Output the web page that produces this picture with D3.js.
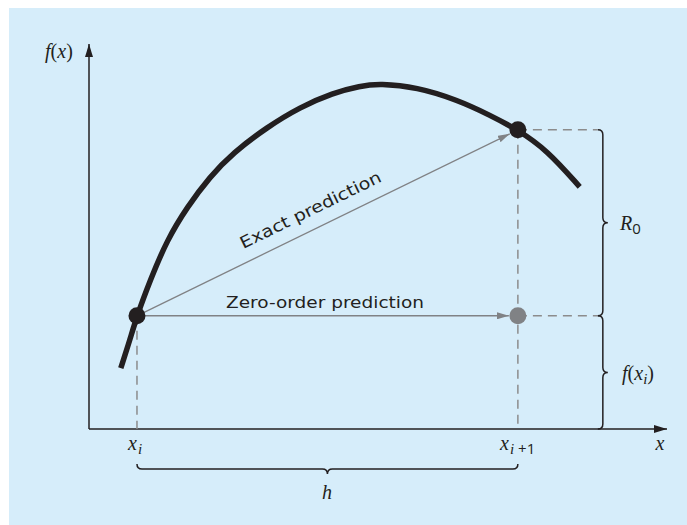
<!DOCTYPE html>
<html><head><meta charset="utf-8">
<script src="https://cdn.jsdelivr.net/npm/d3@7"></script>
<style>
html,body{margin:0;padding:0;background:#fff;}
svg{display:block;}
</style></head>
<body>
<script>
// ---- data (abstract units: x 0..100 along axis, y 0..100 along axis) ----
const curveX = [5.5, 7.1, 8.3, 10.6, 13.5, 17.0, 20.9, 24.9, 30.8, 36.5, 42.2, 46.9, 50.3, 56.7, 63.7, 69.4, 74.2, 79.2, 84.9];
const curveY = [15.8, 23.3, 29.4, 38.7, 49.1, 57.7, 65.5, 71.7, 78.4, 83.6, 87.3, 89.1, 89.7, 88.8, 85.5, 81.5, 77.7, 72.5, 62.9];
const xi = 8.3, xi1 = 74.2;
const fxi = 29.4, fxi1 = 77.7;
const braceX = 88.9;
const labelExact = "Exact prediction";
const labelZero = "Zero-order prediction";

const W = 687, H = 525;
const svg = d3.select("body").append("svg").attr("width", W).attr("height", H);
svg.append("rect").attr("x", 9).attr("y", 8).attr("width", W - 9).attr("height", H - 8).attr("fill", "#d6edfa");

const x = d3.scaleLinear().domain([0, 100]).range([89, 667]);
const y = d3.scaleLinear().domain([0, 100]).range([429, 44]);

const defs = svg.append("defs");
function marker(id, color, w, h) {
  defs.append("marker").attr("id", id).attr("viewBox", `0 0 ${w} ${h}`)
    .attr("refX", w).attr("refY", h / 2).attr("markerWidth", w).attr("markerHeight", h)
    .attr("markerUnits", "userSpaceOnUse").attr("orient", "auto")
    .append("path").attr("d", `M0,0 L${w},${h/2} L0,${h} Z`).attr("fill", color);
}
marker("axArrow", "#231f20", 13, 8);
marker("grArrow", "#808285", 12, 7);

const axisColor = "#231f20";
// axes
svg.append("line").attr("x1", x(0)).attr("y1", y(0)).attr("x2", x(100)).attr("y2", y(0))
  .attr("stroke", axisColor).attr("stroke-width", 1.5).attr("marker-end", "url(#axArrow)");
svg.append("line").attr("x1", x(0)).attr("y1", y(0)).attr("x2", x(0)).attr("y2", y(100))
  .attr("stroke", axisColor).attr("stroke-width", 1.5).attr("marker-end", "url(#axArrow)");

// dashed guides
const dashColor = "#8c8c8c";
const dash = "9,6";
[[xi, fxi, xi, 0], [xi1, fxi1, xi1, 0], [xi1, fxi1, braceX - 0.9, fxi1], [xi1, fxi, braceX - 0.9, fxi]].forEach(d => {
  svg.append("line").attr("x1", x(d[0])).attr("y1", y(d[1])).attr("x2", x(d[2])).attr("y2", y(d[3]))
    .attr("stroke", dashColor).attr("stroke-width", 1.5).attr("stroke-dasharray", dash);
});

// prediction arrows
const pr = 8.5;
const sans = "DejaVu Sans, sans-serif";
(function () {
  const x0 = x(xi), y0 = y(fxi), x1 = x(xi1), y1 = y(fxi1);
  const len = Math.hypot(x1 - x0, y1 - y0);
  const ex = x1 - (x1 - x0) / len * (pr + 0.5), ey = y1 - (y1 - y0) / len * (pr + 0.5);
  svg.append("line").attr("x1", x0).attr("y1", y0).attr("x2", ex).attr("y2", ey)
    .attr("stroke", "#808285").attr("stroke-width", 1.3).attr("marker-end", "url(#grArrow)");
  svg.append("line").attr("x1", x0).attr("y1", y0).attr("x2", x(xi1) - pr - 0.5).attr("y2", y0)
    .attr("stroke", "#808285").attr("stroke-width", 1.5).attr("marker-end", "url(#grArrow)");
  const ang = Math.atan2(y1 - y0, x1 - x0) * 180 / Math.PI;
  const mx = 313, my = 215;
  svg.append("text").attr("transform", `translate(${mx},${my}) rotate(${ang})`)
    .attr("text-anchor", "middle").attr("font-family", sans).attr("font-size", 16.5)
    .attr("textLength", 155).attr("lengthAdjust", "spacingAndGlyphs")
    .attr("fill", "#231f20").text(labelExact);
  svg.append("text").attr("x", 325).attr("y", y0 - 8)
    .attr("text-anchor", "middle").attr("font-family", sans).attr("font-size", 16.5)
    .attr("textLength", 198).attr("lengthAdjust", "spacingAndGlyphs")
    .attr("fill", "#231f20").text(labelZero);
})();

// curve
const pts = curveX.map((v, i) => [x(v), y(curveY[i])]);
svg.append("path").attr("d", d3.line().curve(d3.curveBasis)(pts))
  .attr("fill", "none").attr("stroke", "#231f20").attr("stroke-width", 5.5);

// points
svg.append("circle").attr("cx", x(xi)).attr("cy", y(fxi)).attr("r", pr).attr("fill", "#231f20");
svg.append("circle").attr("cx", x(xi1)).attr("cy", y(fxi1)).attr("r", pr).attr("fill", "#231f20");
svg.append("circle").attr("cx", x(xi1)).attr("cy", y(fxi)).attr("r", pr).attr("fill", "#808285");

// braces
function vbrace(bx, ya, yb) { // ya top, yb bottom, tip points right
  const q = 5, ym = (ya + yb) / 2;
  return `M${bx - q},${ya} Q${bx},${ya} ${bx},${ya + q} L${bx},${ym - q} Q${bx},${ym} ${bx + q},${ym} Q${bx},${ym} ${bx},${ym + q} L${bx},${yb - q} Q${bx},${yb} ${bx - q},${yb}`;
}
function hbrace(by, xa, xb) { // tip points down
  const q = 5, xm = (xa + xb) / 2;
  return `M${xa},${by - q} Q${xa},${by} ${xa + q},${by} L${xm - q},${by} Q${xm},${by} ${xm},${by + q} Q${xm},${by} ${xm + q},${by} L${xb - q},${by} Q${xb},${by} ${xb},${by - q}`;
}
const bxp = x(braceX);
svg.append("path").attr("d", vbrace(bxp, y(fxi1), y(fxi))).attr("fill", "none").attr("stroke", "#231f20").attr("stroke-width", 1.5);
svg.append("path").attr("d", vbrace(bxp, y(fxi), y(0))).attr("fill", "none").attr("stroke", "#231f20").attr("stroke-width", 1.5);
svg.append("path").attr("d", hbrace(469, x(xi), x(xi1))).attr("fill", "none").attr("stroke", "#231f20").attr("stroke-width", 1.5);

// math labels
const serif = "Liberation Serif, Times New Roman, serif";
function mtext(px, py, anchor, parts) {
  const t = svg.append("text").attr("x", px).attr("y", py).attr("text-anchor", anchor)
    .attr("fill", "#231f20").attr("font-family", serif).attr("font-size", 20);
  parts.forEach(p => {
    const s = t.append("tspan").text(p.t);
    if (p.it !== false) s.attr("font-style", "italic");
    if (p.size) s.attr("font-size", p.size);
    if (p.dy) s.attr("dy", p.dy);
    if (p.font) s.attr("font-family", p.font);
    if (p.dx) s.attr("dx", p.dx);
  });
  return t;
}
mtext(45, 58, "start", [{t: "f"}, {t: "(", it: false}, {t: "x"}, {t: ")", it: false}]);
mtext(660, 450, "middle", [{t: "x"}]);
mtext(128, 450, "start", [{t: "x"}, {t: "i", size: 15, dy: 4, dx: 1}]);
mtext(500, 450, "start", [{t: "x"}, {t: "i", size: 15, dy: 4, dx: 1}, {t: "+1", it: false, size: 15, font: "Open Sans, sans-serif", dx: 4}]);
mtext(327, 499, "middle", [{t: "h"}]);
mtext(620, 230, "start", [{t: "R"}, {t: "0", it: false, size: 15, dy: 4, font: "Open Sans, sans-serif"}]);
mtext(622, 380, "start", [{t: "f"}, {t: "(", it: false}, {t: "x"}, {t: "i", size: 15, dy: 4}, {t: ")", it: false, dy: -4}]);
</script>
</body></html>
